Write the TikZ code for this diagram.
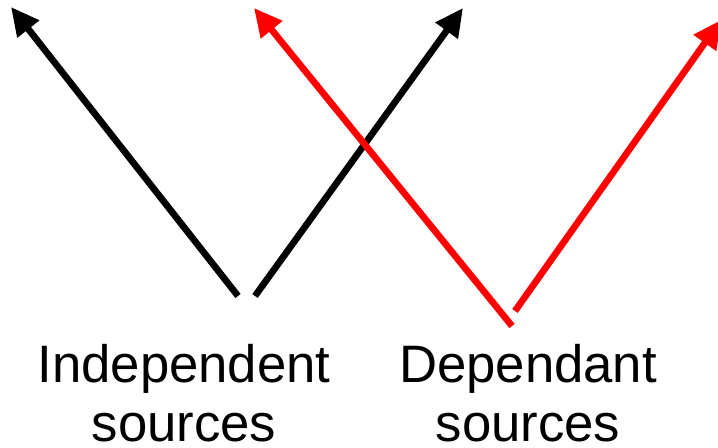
\documentclass[tikz,border=0pt]{standalone}
\usepackage{fontspec}
\setmainfont{Liberation Sans}
\usetikzlibrary{arrows.meta, positioning}

\begin{document}
\begin{tikzpicture}[x=0.02cm, y=-0.02cm,
    source/.style={line width=3.8pt, -{Triangle[length=16pt, width=15pt]}},
    label/.style={align=center, anchor=base, font=\fontsize{30}{34}\selectfont}]
            \useasboundingbox (0, 0) rectangle (718, 448);
            % independent sources
            \coordinate (i1) at (238, 296);
            \coordinate (i2) at (255, 296);
            \coordinate (it1) at (11, 7);
            \coordinate (it2) at (463, 8);
            \draw[source] (i1) -- (it1);
            \draw[source] (i2) -- (it2);
            % dependant sources
            \coordinate (d1) at (512, 326);
            \coordinate (d2) at (515, 311);
            \coordinate (dt1) at (254, 8);
            \coordinate (dt2) at (721, 20);
            \draw[source, red] (d1) -- (dt1);
            \draw[source, red] (d2) -- (dt2);
            \node[label] (indep) at (184, 442) {Independent\\sources};
            \node[label] (dep) at (528, 442) {Dependant\\sources};
        \end{tikzpicture}
\end{document}
